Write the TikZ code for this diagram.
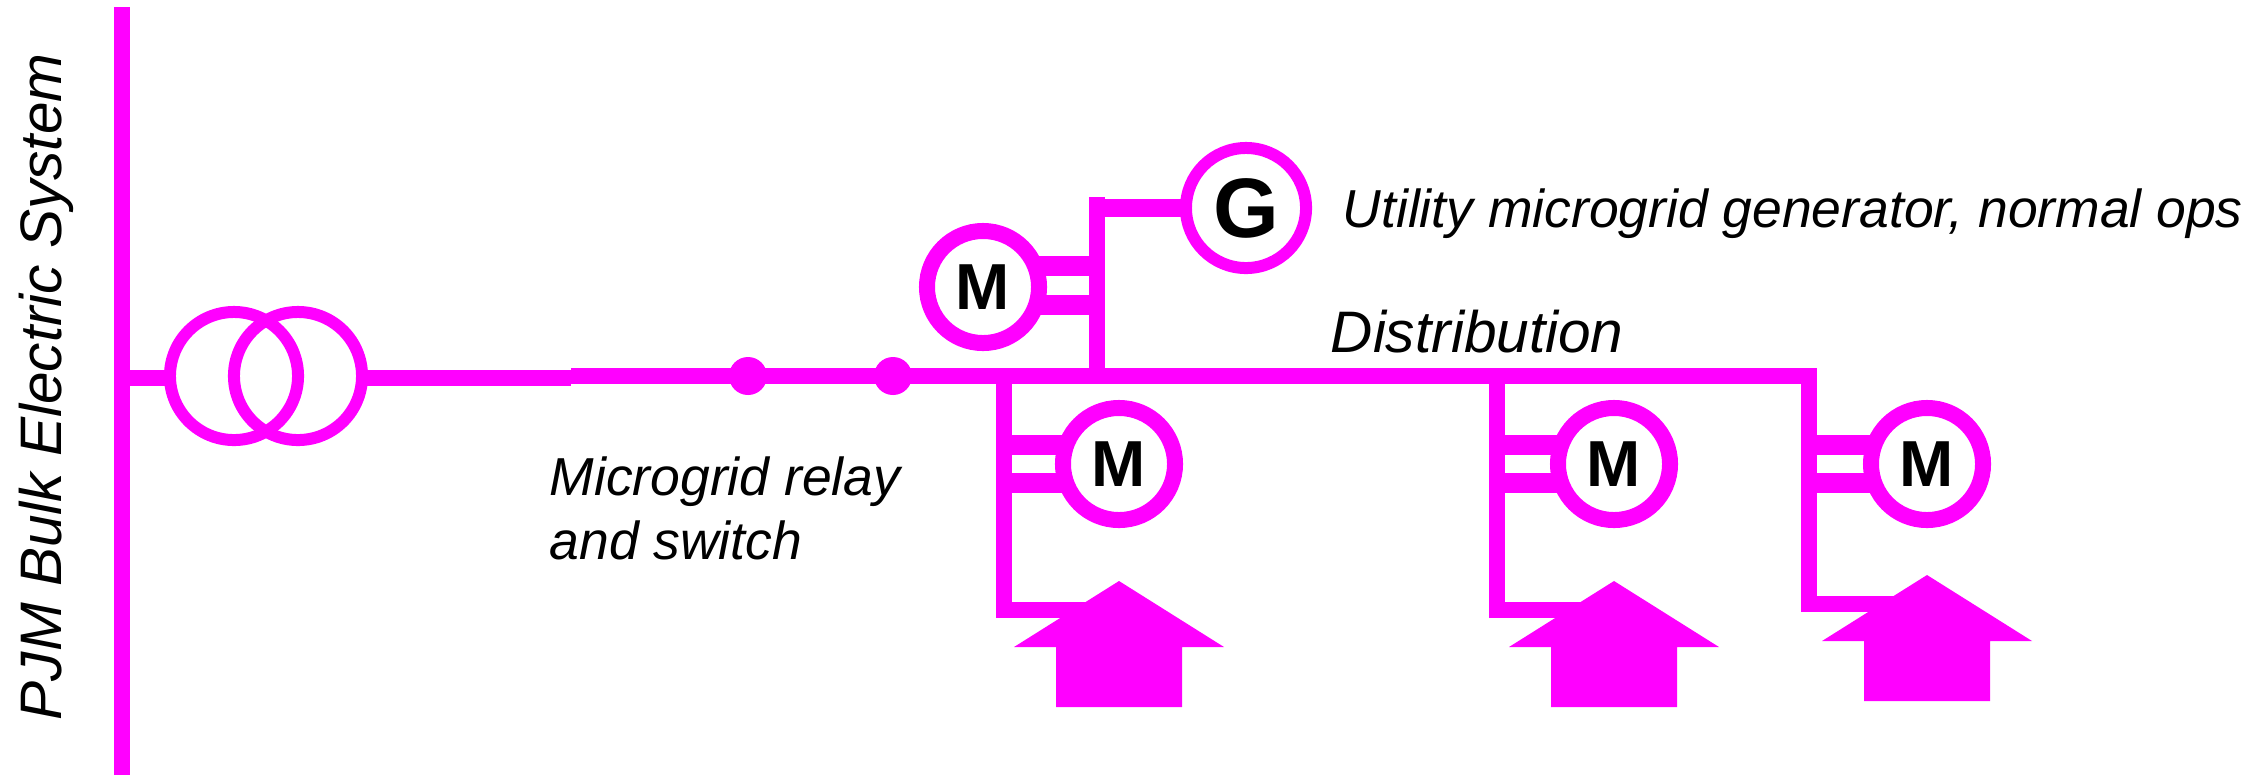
\documentclass[tikz,border=0pt]{standalone}
\usepackage{fontspec}
\setmainfont{Liberation Sans}
\definecolor{feedercolor}{RGB}{255,0,255}

\begin{document}
\begin{tikzpicture}[x=.01cm,y=-.01cm]

	\tikzstyle bus lines=[draw=feedercolor, line width=.16cm];
	\tikzstyle stub lines=[draw=feedercolor, line width=.2cm];
	\tikzstyle machine=[circle, draw=feedercolor, outer sep=0pt, inner sep=0pt, font=\bfseries\fontsize{18.5}{20}\selectfont];
	\tikzstyle motor=[machine, line width=.16cm, minimum size=1.12cm];
	\tikzstyle generator=[machine, line width=.12cm, minimum size=1.2cm, font=\bfseries\fontsize{24}{26}\selectfont];
	\tikzstyle winding=[circle, draw=feedercolor, line width=.12cm, outer sep=0pt, minimum size=1.28cm];
	\tikzstyle relay dot=[circle, fill=feedercolor, inner sep=0pt, minimum size=.38cm];
	\tikzstyle load house=[fill=feedercolor];
	\tikzstyle caption=[inner sep=0pt, font=\itshape\fontsize{15.2}{18.2}\selectfont];
	\tikzstyle big caption=[caption, font=\itshape\fontsize{16.65}{20}\selectfont];

	\useasboundingbox (0,0) rectangle (2267,775);

	\coordinate (busN) at (122,7);
	\coordinate (busS) at (122,775);
	\coordinate (tap) at (122,378);
	\coordinate (lineL) at (571,378);
	\coordinate (mainL) at (571,376);
	\coordinate (mainR) at (1817,376);
	\coordinate (riserT) at (1097,197);

	\node[winding] (tr1) at (234,376) {};
	\node[winding] (tr2) at (298,376) {};
	\node[relay dot] (relay) at (748,376) {};
	\node[relay dot] (switch) at (893,376) {};
	\node[generator] (gen) at (1246,208) {G};
	\node[motor] (mot0) at (983,287) {M};

	\draw[bus lines] (busN) -- (busS);
	\draw[bus lines] (tap) -- (tap -| tr1.west);
	\draw[bus lines] (tr2.east |- lineL) -- (lineL);
	\draw[bus lines] (mainL) -- (mainR);

	\draw[bus lines] (riserT) -- (riserT |- mainL);
	\draw[bus lines, line width=.18cm] (gen.west) -- (gen.west -| riserT);
	\draw[stub lines] (mot0.22) -- (mot0.22 -| riserT);
	\draw[stub lines] (mot0.-19) -- (mot0.-19 -| riserT);

	% branch x / motor x / load line y / top of house
	\foreach \b/\m/\l/\t in {1004/1119/610/581,1497/1614/610/581,1809/1927/604/575}
	{
		\node[motor] (mot\b) at (\m,464) {M};
		\coordinate (tee\b) at (\b,376);
		\coordinate (load\b) at (\b,\l);
		\coordinate (house\b) at (\m,\t);
		\draw[bus lines] (tee\b) -- (load\b) -- (load\b -| house\b);
		\draw[stub lines] (mot\b.160) -- (mot\b.160 -| tee\b);
		\draw[stub lines] (mot\b.200) -- (mot\b.200 -| tee\b);
		\fill[load house] (house\b) -- (\m+105,\t+66) -- (\m+63,\t+66) -- (\m+63,\t+126)
			-- (\m-63,\t+126) -- (\m-63,\t+66) -- (\m-105,\t+66) -- cycle;
	}

	\node[caption, anchor=base west] (gencap) at (1342,227) {Utility microgrid generator, normal ops};
	\node[big caption, anchor=base west] (distcap) at (1330,352) {Distribution};
	\node[caption, anchor=north west, align=left] (relaycap) at (549,456) {Microgrid relay\\and switch};
	\node[big caption, anchor=base west, rotate=90] (pjmcap) at (61,721) {PJM Bulk Electric System};

\end{tikzpicture}
\end{document}
